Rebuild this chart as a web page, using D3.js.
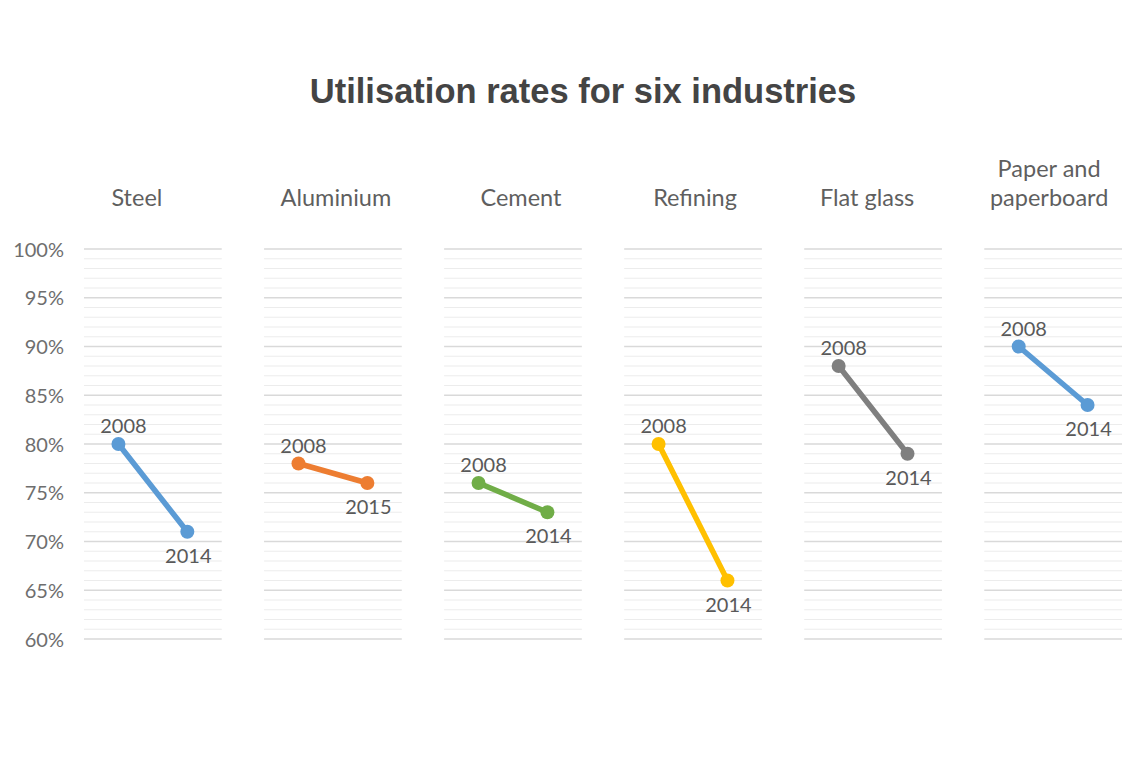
<!DOCTYPE html>
<html>
<head>
<meta charset="utf-8">
<script src="https://cdn.jsdelivr.net/npm/d3@7/dist/d3.min.js"></script>
<style>
html,body{margin:0;padding:0;background:#fff;}
svg{display:block;}
</style>
</head>
<body>
<svg id="chart" width="1143" height="764"></svg>
<script>
const industries = ["Steel", "Aluminium", "Cement", "Refining", "Flat glass", "Paper and paperboard"];
const startYears = ["2008", "2008", "2008", "2008", "2008", "2008"];
const endYears = ["2014", "2015", "2014", "2014", "2014", "2014"];
const startValues = [80, 78, 76, 80, 88, 90];
const endValues = [71, 76, 73, 66, 79, 84];
const colors = ["#5B9BD5", "#ED7D31", "#70AD47", "#FFC000", "#7F7F7F", "#5B9BD5"];
const yTicks = [60, 65, 70, 75, 80, 85, 90, 95, 100];
const title = "Utilisation rates for six industries";

const svg = d3.select("#chart");
const plotTop = 249, plotBottom = 639;
const titleShift = [-16, 3, 8, 2, -6, -4];

const y = d3.scaleLinear().domain([60, 100]).range([plotBottom, plotTop]);
const panel = d3.scaleBand().domain(industries).range([84, 1122]).paddingInner(0.235).paddingOuter(0);
const xIn = d3.scalePoint().domain(["start", "end"]).range([0, 1]).padding(0.5);

svg.append("text")
  .attr("x", 583).attr("y", 103)
  .attr("text-anchor", "middle")
  .attr("font-family", "Liberation Sans, Arial, sans-serif")
  .attr("font-weight", "bold")
  .attr("font-size", 34.5)
  .attr("fill", "#444444")
  .text(title);

const yAxis = d3.axisLeft(y).tickValues(yTicks).tickFormat(d => d + "%").tickSize(0).tickPadding(0);
const yg = svg.append("g").attr("transform", "translate(64,0)").call(yAxis);
yg.select(".domain").remove();
yg.selectAll("text")
  .attr("font-family", "Lato, Open Sans, sans-serif")
  .attr("font-size", 20)
  .attr("fill", "#6e6e6e")
  .attr("dy", "0.35em");

const minorTicks = d3.range(60, 101, 1);

industries.forEach((name, i) => {
  const x0 = panel(name), bw = panel.bandwidth();
  const g = svg.append("g");
  g.selectAll("line.grid").data(minorTicks).join("line")
    .attr("x1", x0).attr("x2", x0 + bw)
    .attr("y1", d => y(d)).attr("y2", d => y(d))
    .attr("stroke", d => d % 5 === 0 ? "#d9d9d9" : "#ececec")
    .attr("stroke-width", d => d % 5 === 0 ? 1.6 : 1.2);

  const words = name === "Paper and paperboard" ? ["Paper and", "paperboard"] : [name];
  const t = g.append("text")
    .attr("text-anchor", "middle")
    .attr("font-family", "Lato, Open Sans, sans-serif")
    .attr("font-size", 23.5)
    .attr("fill", "#5f5f5f");
  words.forEach((w, k) => {
    t.append("tspan").attr("x", x0 + bw / 2 + titleShift[i])
      .attr("y", 206 - (words.length - 1 - k) * 29)
      .text(w);
  });

  const xs = x0 + xIn("start") * bw, xe = x0 + xIn("end") * bw;
  const pts = [[xs, y(startValues[i])], [xe, y(endValues[i])]];
  g.append("path")
    .attr("d", d3.line()(pts))
    .attr("stroke", colors[i]).attr("stroke-width", 5.5)
    .attr("fill", "none").attr("stroke-linecap", "round");
  g.selectAll("circle").data(pts).join("circle")
    .attr("cx", d => d[0]).attr("cy", d => d[1]).attr("r", 7)
    .attr("fill", colors[i]);

  g.append("text")
    .attr("x", xs + 5).attr("y", y(startValues[i]) - 11)
    .attr("text-anchor", "middle")
    .attr("font-family", "Lato, Open Sans, sans-serif")
    .attr("font-size", 20).attr("fill", "#595959")
    .text(startYears[i]);
  g.append("text")
    .attr("x", xe + 1).attr("y", y(endValues[i]) + 31)
    .attr("text-anchor", "middle")
    .attr("font-family", "Lato, Open Sans, sans-serif")
    .attr("font-size", 20).attr("fill", "#595959")
    .text(endYears[i]);
});
</script>
</body>
</html>
